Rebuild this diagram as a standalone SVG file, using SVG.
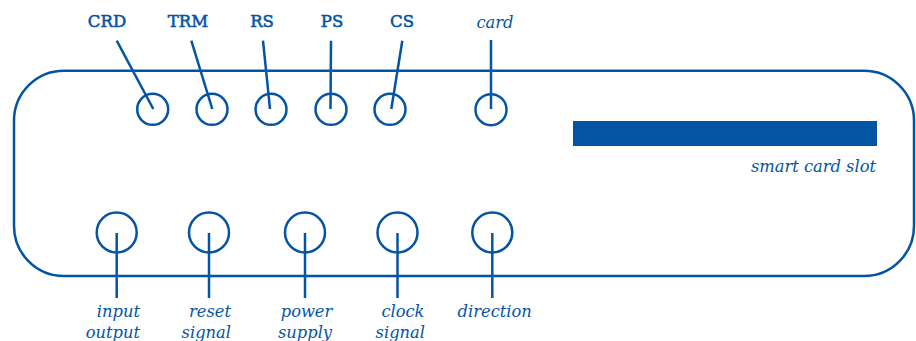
<svg xmlns="http://www.w3.org/2000/svg" width="916" height="341" viewBox="0 0 916 341">
<style>
.s{fill:none;stroke:#0454a4;stroke-width:2.5}
.lb{font-family:"DejaVu Serif","Liberation Serif",serif;font-weight:normal;font-size:16.5px;fill:#0454a4;stroke:#0454a4;stroke-width:0.55;text-anchor:middle}
.li{font-family:"DejaVu Serif","Liberation Serif",serif;font-style:italic;font-size:16.3px;fill:#0454a4}
</style>
<rect width="916" height="341" fill="#fff"/>
<g id="reader">
<rect class="s" x="14" y="70.7" width="900" height="205.3" rx="50" ry="50"/>
</g>
<g id="slot">
<rect x="573" y="121" width="304" height="25" fill="#0454a4"/>
<text class="li" x="876" y="171.5" text-anchor="end">smart card slot</text>
</g>
<g id="led-crd"><circle class="s" cx="152.7" cy="109.3" r="15.5"/><text class="lb" x="107" y="26.7">CRD</text></g>
<g id="led-trm"><circle class="s" cx="212" cy="109.3" r="15.5"/><text class="lb" x="188" y="26.7">TRM</text></g>
<g id="led-rs"><circle class="s" cx="271" cy="109.3" r="15.5"/><text class="lb" x="262" y="26.7">RS</text></g>
<g id="led-ps"><circle class="s" cx="331" cy="109.3" r="15.5"/><text class="lb" x="332" y="26.7">PS</text></g>
<g id="led-cs"><circle class="s" cx="390" cy="109.3" r="15.5"/><text class="lb" x="402" y="26.7">CS</text></g>
<g id="led-card"><circle class="s" cx="491" cy="109.7" r="15.5"/><text class="li" x="495" y="28" text-anchor="middle">card</text></g>
<g id="pin-io"><circle class="s" cx="116.7" cy="232.5" r="20"/><text class="li" x="140" y="316.7" text-anchor="end">input</text><text class="li" x="140" y="337.7" text-anchor="end">output</text></g>
<g id="pin-reset"><circle class="s" cx="209" cy="232.5" r="20"/><text class="li" x="231" y="316.7" text-anchor="end">reset</text><text class="li" x="231" y="337.7" text-anchor="end">signal</text></g>
<g id="pin-power"><circle class="s" cx="305" cy="232.5" r="20"/><text class="li" x="306.5" y="316.7" text-anchor="middle">power</text><text class="li" x="305" y="337.7" text-anchor="middle">supply</text></g>
<g id="pin-clock"><circle class="s" cx="397.5" cy="232.5" r="20"/><text class="li" x="424.5" y="316.7" text-anchor="end">clock</text><text class="li" x="425" y="337.7" text-anchor="end">signal</text></g>
<g id="pin-dir"><circle class="s" cx="492.3" cy="232.5" r="20"/><text class="li" x="494.7" y="316.7" text-anchor="middle">direction</text></g>
<g id="connectors" class="s">
<line x1="116.7" y1="40.7" x2="153.3" y2="109"/>
<line x1="191.3" y1="40.7" x2="212.3" y2="109"/>
<line x1="263" y1="40.7" x2="270" y2="109"/>
<line x1="331" y1="40.7" x2="330.5" y2="109"/>
<line x1="402.3" y1="40.7" x2="391.3" y2="109"/>
<line x1="491" y1="40" x2="491" y2="109"/>
<line x1="116.7" y1="233" x2="116.7" y2="298"/>
<line x1="209" y1="233" x2="209" y2="298"/>
<line x1="305" y1="233" x2="305" y2="298"/>
<line x1="397.5" y1="233" x2="397.5" y2="298"/>
<line x1="492.3" y1="233" x2="492.3" y2="298"/>
</g>
</svg>
